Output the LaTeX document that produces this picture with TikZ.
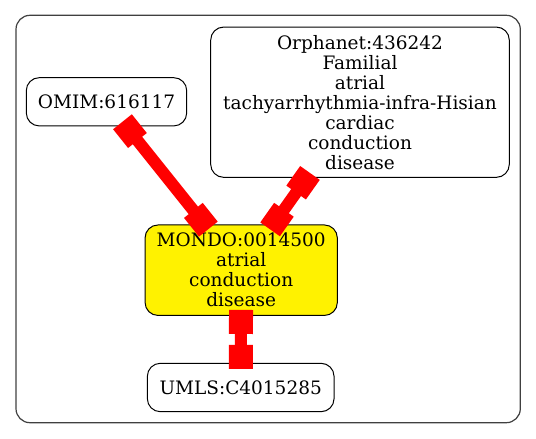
\documentclass[tikz,border=0pt]{standalone}
\usepackage{fontspec}
\setmainfont{DejaVu Serif}
\usepackage{tikz}
\usetikzlibrary{arrows.meta}

\begin{document}
\begin{tikzpicture}[x=1pt, y=-1pt, font=\fontsize{18.5}{20}\selectfont]
    \tikzstyle{cluster_style} = [draw=black!75, line width=1.2pt, rounded corners=14pt]
    \tikzstyle{node_style} = [rectangle, draw=black, line width=1pt, rounded corners=13pt, fill=white, align=center, inner sep=0pt]
    \tikzstyle{node_focus} = [node_style, fill=yellow]
    \tikzstyle{edge_style} = [draw=red, line width=12pt, {Square[length=24pt,width=24pt]}-{Square[length=24pt,width=24pt]}, shorten >=-6pt, shorten <=-6pt]
    \useasboundingbox (0,0) rectangle (536,439);
    \draw[cluster_style] (16,15.3) rectangle (520.3,422.7);
    \node[node_style, minimum width=160.4pt, minimum height=48.3pt] (omim) at (106.5,101.8) {OMIM:616117};
    \node[node_style, minimum width=298.6pt, minimum height=150.3pt] (orpha) at (360,102.2) {Orphanet:436242\\Familial\\atrial\\tachyarrhythmia-infra-Hisian\\cardiac\\conduction\\disease};
    \node[node_focus, minimum width=192.3pt, minimum height=90.5pt] (mondo) at (241.2,270.2) {MONDO:0014500\\atrial\\conduction\\disease};
    \node[node_style, minimum width=186.7pt, minimum height=48.4pt] (umls) at (240.7,387.5) {UMLS:C4015285};

    \draw[edge_style]  (omim) edge (mondo);
    \draw[edge_style]  (orpha) edge (mondo);
    \draw[edge_style]  (mondo) edge (umls);
\end{tikzpicture}
\end{document}
